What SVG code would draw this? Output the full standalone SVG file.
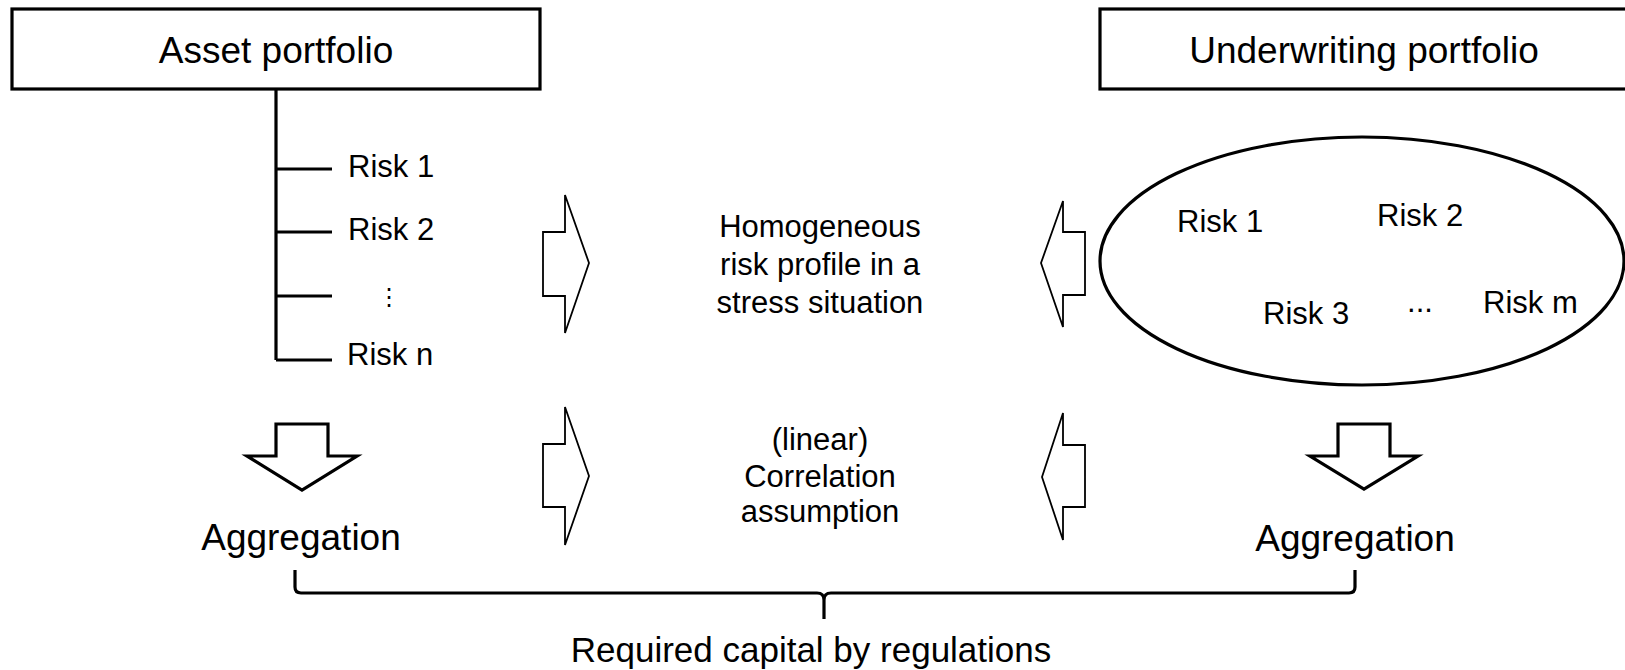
<svg xmlns="http://www.w3.org/2000/svg" width="1625" height="670" viewBox="0 0 1625 670">
<style>
  text { font-family: "Liberation Sans", Arial, sans-serif; fill: #000; }
  .title { font-size: 37px; text-anchor: middle; }
  .risk { font-size: 31px; }
  .mid { font-size: 31px; text-anchor: middle; }
  .agg { font-size: 37px; text-anchor: middle; }
  .box { fill: #fff; stroke: #000; stroke-width: 3.2; }
  .thin { fill: #fff; stroke: #000; stroke-width: 1.8; stroke-linejoin: miter; }
  .thick { fill: #fff; stroke: #000; stroke-width: 3.2; stroke-linejoin: miter; }
  .line { fill: none; stroke: #000; stroke-width: 3.2; }
</style>
<rect width="1625" height="670" fill="#fff"/>

<g id="asset-portfolio">
  <rect class="box" x="12" y="9" width="528" height="80"/>
  <text class="title" x="276" y="63">Asset portfolio</text>
</g>

<g id="asset-risks">
  <text class="risk" x="348" y="177">Risk 1</text>
  <text class="risk" x="348" y="240">Risk 2</text>
  <text class="risk" x="389" y="305" text-anchor="middle" style="font-family:'DejaVu Sans',sans-serif;font-size:24px">⋮</text>
  <text class="risk" x="347" y="365">Risk n</text>
</g>

<g id="underwriting-portfolio">
  <rect class="box" x="1100" y="9" width="530" height="80"/>
  <text class="title" x="1364" y="63">Underwriting portfolio</text>
</g>

<g id="underwriting-risks">
  <ellipse class="box" cx="1362" cy="261" rx="262" ry="124"/>
  <text class="risk" x="1177" y="232">Risk 1</text>
  <text class="risk" x="1377" y="226">Risk 2</text>
  <text class="risk" x="1263" y="324">Risk 3</text>
  <text class="risk" x="1420" y="312" text-anchor="middle">...</text>
  <text class="risk" x="1483" y="313">Risk m</text>
</g>

<g id="homogeneous">
  <text class="mid" x="820" y="237">Homogeneous</text>
  <text class="mid" x="820" y="275">risk profile in a</text>
  <text class="mid" x="820" y="313">stress situation</text>
</g>

<g id="correlation">
  <text class="mid" x="820" y="450">(linear)</text>
  <text class="mid" x="820" y="487">Correlation</text>
  <text class="mid" x="820" y="522">assumption</text>
</g>

<g id="aggregation-left">
  <text class="agg" x="301" y="550">Aggregation</text>
</g>

<g id="aggregation-right">
  <text class="agg" x="1355" y="551">Aggregation</text>
</g>

<g id="required-capital">
  <text x="811" y="662" style="font-size:35px;text-anchor:middle">Required capital by regulations</text>
</g>

<g id="connectors">
  <path class="line" d="M276,89 V360 M276,169 H332 M276,232 H332 M276,296 H332 M276,360 H332"/>
  <polygon class="thin" points="543,232 565,232 565,195 589,263 565,333 565,296 543,296"/>
  <polygon class="thin" points="543,444 565,444 565,407 589,476 565,545 565,507 543,507"/>
  <polygon class="thin" points="1085,232 1063,232 1063,201 1041,263 1063,327 1063,295 1085,295"/>
  <polygon class="thin" points="1085,445 1063,445 1063,413 1042,477 1063,540 1063,507 1085,507"/>
  <polygon class="thick" points="276,424 328,424 328,456 357,456 302,490 247,456 276,456"/>
  <polygon class="thick" points="1338,424 1390,424 1390,456 1418,456 1364,489 1310,456 1338,456"/>
  <path class="line" d="M295,570 V587 Q295,593 301,593 H817 Q824,593 824,600 V619 M824,600 Q824,593 831,593 H1349 Q1355,593 1355,587 V570"/>
</g>
</svg>
